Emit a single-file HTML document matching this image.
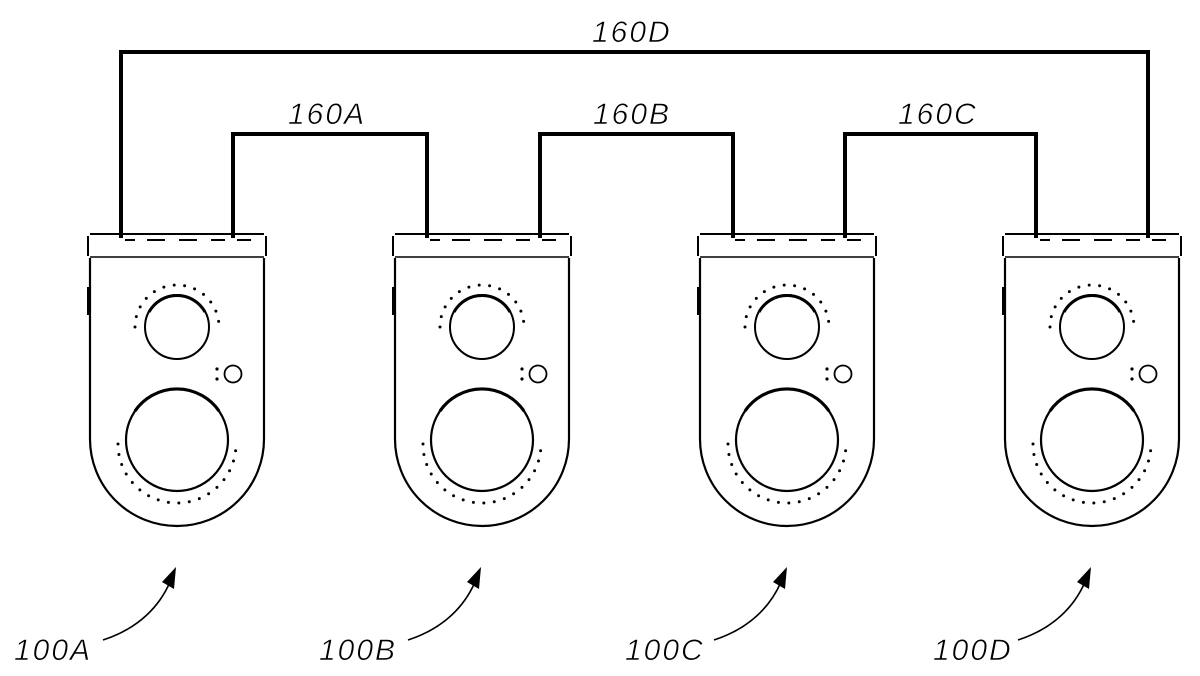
<!DOCTYPE html>
<html><head><meta charset="utf-8"><style>
html,body{margin:0;padding:0;background:#fff;}
svg{display:block;}
text{font-family:"Liberation Sans",sans-serif;font-style:italic;font-size:30px;fill:#000;stroke:#fff;stroke-width:0.6;letter-spacing:2px;}
</style></head><body>
<svg width="1200" height="676" viewBox="0 0 1200 676" xmlns="http://www.w3.org/2000/svg">
<defs>
<g id="dev" fill="none" stroke="#000">
  <path d="M1,236 L1,256 M179,236 L179,256" stroke-width="2"/>
  <path d="M3,234 L177,234" stroke-width="2"/>
  <path d="M3,257 L177,257" stroke-width="1.5"/>
  <path d="M38,240 H48 M60,240 H78 M92,240 H110 M124,240 H138 M150,240 H164" stroke-width="2"/>
  <path d="M3,258 L3,439 A87,87 0 0 0 177,439 L177,258" stroke-width="2.2"/>
  <rect x="0" y="287" width="3" height="28" fill="#000" stroke="none"/>
  <circle cx="90" cy="327" r="32" stroke-width="2"/>
  <path d="M62,312 A32,32 0 0 1 118,312" stroke-width="3"/>
  <path d="M48,327 A42,42 0 0 1 132,327" stroke-width="3" stroke-dasharray="0 10.5" stroke-linecap="round"/>
  <circle cx="146" cy="374" r="8.5" stroke-width="1.8"/>
  <circle cx="130" cy="369" r="1.6" fill="#000" stroke="none"/>
  <circle cx="130" cy="379" r="1.6" fill="#000" stroke="none"/>
  <circle cx="90" cy="440" r="51" stroke-width="2.2"/>
  <path d="M48,411 A51,51 0 0 1 132,411" stroke-width="3.2"/>
  <path d="M31,444 A59,59 0 0 0 149,444" stroke-width="3" stroke-dasharray="0 10.5" stroke-linecap="round"/>
</g>
</defs>
<use href="#dev" x="87"/>
<use href="#dev" x="392"/>
<use href="#dev" x="697"/>
<use href="#dev" x="1002"/>
<g fill="none" stroke="#000" stroke-width="4">
  <path d="M121,238 V52 H1148 V238"/>
  <path d="M233,238 V134 H427 V238"/>
  <path d="M540,238 V134 H733 V238"/>
  <path d="M845,238 V134 H1036 V238"/>
</g>
<text x="592" y="42">160D</text>
<text x="288" y="124">160A</text>
<text x="593" y="124">160B</text>
<text x="898" y="124">160C</text>
<text x="14" y="660">100A</text>
<text x="319" y="660">100B</text>
<text x="625" y="660">100C</text>
<text x="933" y="660">100D</text>
<g fill="none" stroke="#000" stroke-width="1.6">
  <path d="M103,640 C140,628 160,605 170,582"/>
  <path d="M408,640 C445,628 465,605 475,582"/>
  <path d="M714,640 C751,628 771,605 781,582"/>
  <path d="M1018,640 C1055,628 1075,605 1085,582"/>
</g>
<g fill="#000">
  <path d="M176,567 L174,589 L162,582 Z"/>
  <path d="M481,567 L479,589 L467,582 Z"/>
  <path d="M787,567 L785,589 L773,582 Z"/>
  <path d="M1091,567 L1089,589 L1077,582 Z"/>
</g>
</svg>
</body></html>
